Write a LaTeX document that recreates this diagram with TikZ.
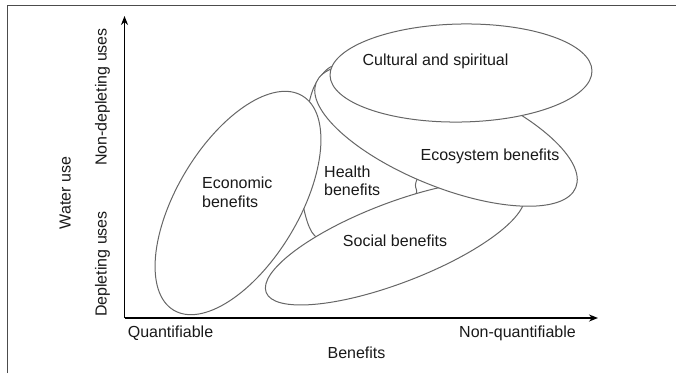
\documentclass[tikz,border=0pt]{standalone}
\usepackage{fontspec}
\setmainfont{Liberation Sans}
\usetikzlibrary{arrows.meta}
\begin{document}
\begin{tikzpicture}[x=1pt,y=-1pt,
  blob/.style={draw=black!60, line width=1pt, fill=white},
  lbl/.style={font=\fontsize{16}{19}\selectfont, text=black!90, inner sep=0pt, anchor=base},
  lblw/.style={lbl, anchor=base west},
  axisline/.style={line width=1.8pt, -{Stealth[length=9pt,width=7pt]}}]
\useasboundingbox (0,0) rectangle (676,373);
% frame
\draw[black!70, line width=1.5pt] (7.5,373) -- (7.5,5.5) -- (676,5.5);
% axes
\coordinate (O) at (124.5,318);
\coordinate (Ytip) at (124.5,16);
\coordinate (Xtip) at (598,318);
\draw[axisline] (O) -- (Ytip);
\draw[axisline] (O) -- (Xtip);
% health (background region)
\draw[blob] plot[smooth cycle] coordinates {(310,99) (318,80) (333,66) (360,70) (410,90) (432,135) (416,182) (414,196) (370,228) (318,238) (302,200) (300,150)};
% economic
\draw[blob, shift={(238,203)}, rotate=59] (0,0) ellipse [x radius=125pt, y radius=61pt];
% social
\draw[blob, shift={(395,243)}, rotate=21] (0,0) ellipse [x radius=138pt, y radius=40pt];
% ecosystem
\draw[blob, shift={(446,135)}, rotate=-22] (0,0) ellipse [x radius=140pt, y radius=52pt];
% cultural
\draw[blob, shift={(461,73)}, rotate=1] (0,0) ellipse [x radius=131pt, y radius=49pt];
% labels
\node[lbl] (cult) at (435.5,65.8) {Cultural and spiritual};
\node[lbl] (eco) at (490,160.8) {Ecosystem benefits};
\node[lblw] (health1) at (324,177.8) {Health};
\node[lblw] (health2) at (324,195.8) {benefits};
\node[lblw] (econ1) at (202,188.8) {Economic};
\node[lblw] (econ2) at (202,207.8) {benefits};
\node[lbl] (social) at (395,246.3) {Social benefits};
\node[lbl] (quant) at (170.5,337.8) {Quantifiable};
\node[lbl] (nonquant) at (517.5,337.8) {Non-quantifiable};
\node[lbl] (benefits) at (356.5,358.8) {Benefits};
\node[lbl, rotate=90] (wateruse) at (70.7,193) {Water use};
\node[lbl, rotate=90] (depl) at (106.7,264) {Depleting uses};
\node[lbl, rotate=90] (nondepl) at (106.7,97) {Non-depleting uses};
\end{tikzpicture}
\end{document}
